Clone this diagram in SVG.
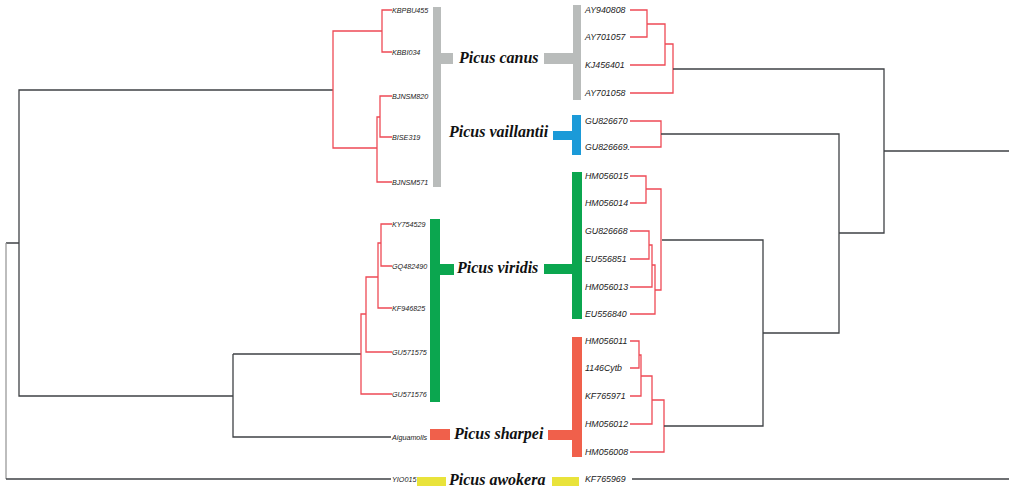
<svg xmlns="http://www.w3.org/2000/svg" width="1009" height="487" viewBox="0 0 1009 487">
<style>
.bk{fill:none;stroke:#3f4245;stroke-width:1.3}
.gr{fill:none;stroke:#9a9a9a;stroke-width:1.3}
.rd{fill:none;stroke:#ee4a55;stroke-width:1.3}
.ll{font-family:"Liberation Sans",Arial,sans-serif;font-style:italic;font-size:7.2px;fill:#222}
.rl{font-family:"Liberation Sans",Arial,sans-serif;font-style:italic;font-size:8.8px;fill:#222}
.sp{font-family:"Liberation Serif","Times New Roman",serif;font-style:italic;font-weight:bold;font-size:16px;fill:#111}
.canus{fill:#b9bcbb}
.vail{fill:#1b9ad8}
.virid{fill:#0ba64f}
.sharp{fill:#f0604b}
.awok{fill:#e9e33b}
</style>
<rect width="1009" height="487" fill="#ffffff"/>
<g id="connectors">
<path class="bk" d="M333,90 H19 V396 H233 M19,243 H6"/>
<path class="gr" d="M6,243 V479"/>
<path class="bk" d="M6,479 H391 M233,354 H361 M233,354 V437 H391"/>
<path class="rd" d="M392,10 H382 V52 H392 M382,31 H333 V148 H377 M392,96 H380 V137 H392 M380,117 H377 V182 H392"/>
<path class="rd" d="M392,224 H381 V266 H392 M381,243 H378 V308 H392 M378,277 H366 V352 H392 M366,314 H361 V394 H392"/>
<path class="rd" d="M630,10 H647 V37 H630 M647,24 H665 V65 H630 M665,44 H673 V93 H630 M630,121 H661 V147 H630"/>
<path class="rd" d="M630,176 H646 V203 H630 M630,231 H649 V259 H630 M649,245 H652 V287 H630 M652,265 H655 V314 H630 M646,189 H661 V290 H655"/>
<path class="rd" d="M630,341 H639 V368 H630 M639,355 H641 V396 H630 M641,376 H652 V424 H630 M652,400 H664 V452 H630"/>
<path class="bk" d="M673,69 H884 V233 H839 M884,151 H1009 M661,134 H839 V333 H763 M662,240 H763 V426 H664 M632,479 H1009"/>
</g>
<g id="picus-canus">
<rect class="canus" x="433" y="7" width="8" height="180"/>
<rect class="canus" x="440" y="53" width="13" height="11"/>
<rect class="canus" x="573" y="5" width="8" height="95"/>
<rect class="canus" x="544" y="53" width="30" height="11"/>
<text class="sp" x="459" y="63">Picus canus</text>
<text class="ll" x="392" y="12.5">KBPBU455</text>
<text class="ll" x="392" y="54.5">KBBI034</text>
<text class="ll" x="392" y="98.5">BJNSM820</text>
<text class="ll" x="392" y="139.5">BISE319</text>
<text class="ll" x="392" y="184.5">BJNSM571</text>
<text class="rl" x="585" y="13">AY940808</text>
<text class="rl" x="585" y="40">AY701057</text>
<text class="rl" x="585" y="68">KJ456401</text>
<text class="rl" x="585" y="96">AY701058</text>
</g>
<g id="picus-vaillantii">
<rect class="vail" x="572" y="115" width="9" height="40"/>
<rect class="vail" x="553" y="131" width="20" height="9"/>
<text class="sp" x="449" y="137">Picus vaillantii</text>
<text class="rl" x="585" y="124">GU826670</text>
<text class="rl" x="585" y="150">GU826669.</text>
</g>
<g id="picus-viridis">
<rect class="virid" x="430" y="219" width="10" height="183"/>
<rect class="virid" x="439" y="264" width="15" height="11"/>
<rect class="virid" x="572" y="172" width="10" height="147"/>
<rect class="virid" x="544" y="264" width="29" height="10"/>
<text class="sp" x="457" y="273">Picus viridis</text>
<text class="ll" x="392" y="226.5">KY754529</text>
<text class="ll" x="392" y="268.5">GQ482490</text>
<text class="ll" x="392" y="310.5">KF946825</text>
<text class="ll" x="392" y="354.5">GU571575</text>
<text class="ll" x="392" y="396.5">GU571576</text>
<text class="rl" x="585" y="179">HM056015</text>
<text class="rl" x="585" y="206">HM056014</text>
<text class="rl" x="585" y="234">GU826668</text>
<text class="rl" x="585" y="262">EU556851</text>
<text class="rl" x="585" y="290">HM056013</text>
<text class="rl" x="585" y="317">EU556840</text>
</g>
<g id="picus-sharpei">
<rect class="sharp" x="430" y="429" width="20" height="11"/>
<rect class="sharp" x="572" y="337" width="10" height="120"/>
<rect class="sharp" x="548" y="430" width="25" height="10"/>
<text class="sp" x="454" y="439">Picus sharpei</text>
<text class="ll" x="392" y="439.5">Aiguamolls</text>
<text class="rl" x="585" y="344">HM056011</text>
<text class="rl" x="585" y="371">1146Cytb</text>
<text class="rl" x="585" y="399">KF765971</text>
<text class="rl" x="585" y="427">HM056012</text>
<text class="rl" x="585" y="455">HM056008</text>
</g>
<g id="picus-awokera">
<rect class="awok" x="417" y="477" width="29" height="9"/>
<rect class="awok" x="552" y="477" width="27" height="9"/>
<text class="sp" x="449" y="485">Picus awokera</text>
<text class="ll" x="392" y="481.5">YIO015</text>
<text class="rl" x="585" y="482">KF765969</text>
</g>
</svg>
